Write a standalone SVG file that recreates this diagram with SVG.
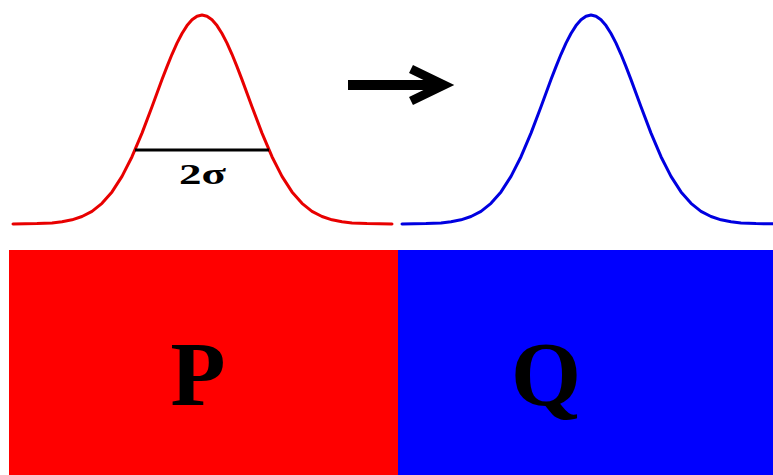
<svg xmlns="http://www.w3.org/2000/svg" xmlns:xlink="http://www.w3.org/1999/xlink" width="773" height="475" viewBox="0 0 773 475">
  <style>
    .curve { fill: none; stroke-width: 3; stroke-linejoin: round; stroke-linecap: round; }
    .big { font-family: "Liberation Serif", "Times New Roman", serif; font-weight: bold; font-size: 90px; fill: #000; text-anchor: middle; }
    .sig { font-family: "Liberation Serif", "Times New Roman", serif; font-weight: bold; font-size: 30px; fill: #000; }
  </style>
  <defs>
    <path id="gauss" d="M13,224 L37,223.6 L52,222.9 L62,221.8 L72,219.8 L82,216.5 L92,211.3 L102,203.3 L112,191.9 L122,176.4 L132,156.7 L142,133.1 L152,106.8 L162,79.6 L167,66.6 L172,54.3 L177,43.1 L182,33.5 L187,25.6 L192,19.8 L197,16.2 L202,15 L207,16.2 L212,19.8 L217,25.6 L222,33.5 L227,43.1 L232,54.3 L237,66.6 L242,79.6 L252,106.8 L262,133.1 L272,156.7 L282,176.4 L292,191.9 L302,203.3 L312,211.3 L322,216.5 L332,219.8 L342,221.8 L352,222.9 L367,223.6 L392,224"/>
  </defs>
  <rect width="773" height="475" fill="#fff"/>

  <g id="P-curve">
    <use xlink:href="#gauss" class="curve" stroke="#e80000"/>
    <line x1="135" y1="150" x2="269" y2="150" stroke="#000" stroke-width="3"/>
    <text class="sig" x="179" y="184" textLength="47" lengthAdjust="spacingAndGlyphs">2σ</text>
  </g>

  <g id="Q-curve">
    <use xlink:href="#gauss" class="curve" stroke="#0000e0" transform="translate(389,0)"/>
  </g>

  <g id="connectors">
    <line x1="348" y1="85" x2="444" y2="85" stroke="#000" stroke-width="10"/>
    <polyline points="411,69 444,85 411,101" fill="none" stroke="#000" stroke-width="9" stroke-linejoin="miter"/>
  </g>

  <g id="P">
    <rect x="9" y="250" width="389" height="225" fill="#ff0000"/>
    <text class="big" x="198" y="405">P</text>
  </g>

  <g id="Q">
    <rect x="398" y="250" width="375" height="225" fill="#0000ff"/>
    <text class="big" x="546" y="405">Q</text>
  </g>
</svg>
